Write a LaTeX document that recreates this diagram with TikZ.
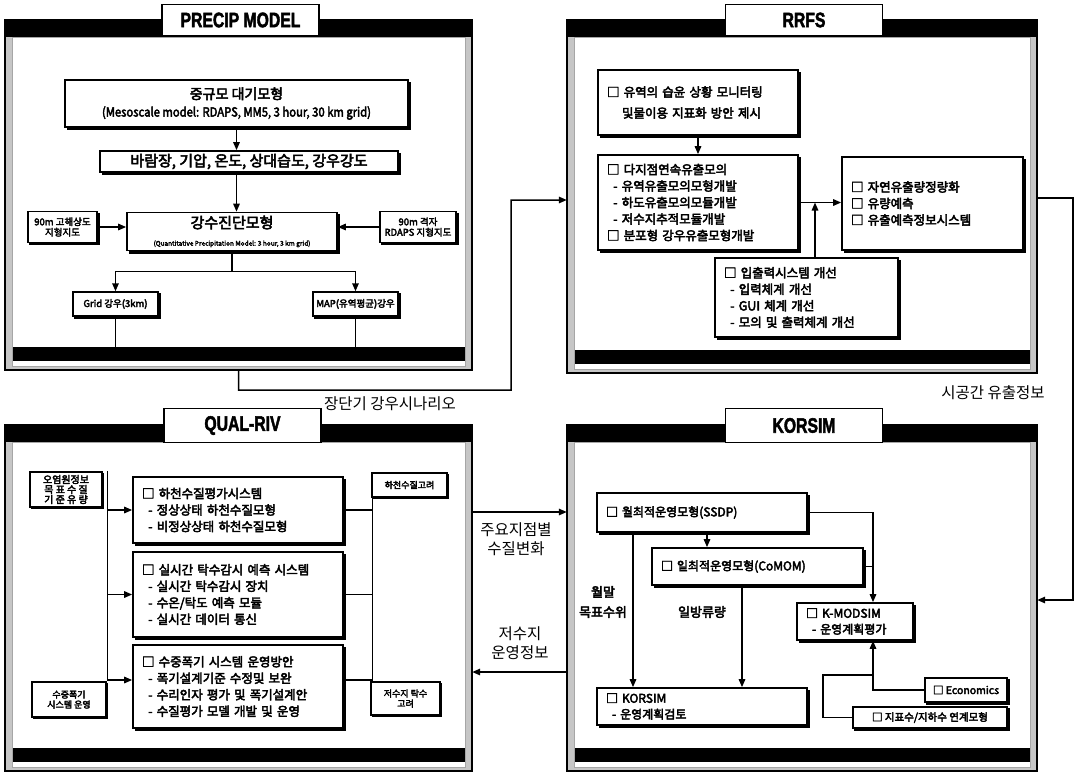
\documentclass[tikz,border=0pt]{standalone}
\usepackage{fontspec}
\setmainfont{Noto Sans CJK KR}
\newfontfamily\krb{Noto Sans CJK KR}[FakeBold=3.5]
\newfontfamily\ttlfont{Liberation Sans Bold}[FakeBold=2.5]
\usetikzlibrary{arrows.meta,calc}
\newcommand\fsz[2]{\fontsize{#1}{#2}\selectfont}
\newcommand\li[1]{\mbox{#1}}
\newcommand\dl[1]{\mbox{\hspace*{0.5em}- #1}}
\newcommand\drawpanel[5]{%
  \fill[gray!45] (#2,#3) rectangle (#4,#5);
  \fill[white] (#2+7,#3+17) rectangle (#4-7,#5-4);
  \fill[black] (#2,#3) rectangle (#4,#3+17);
  \draw[gray!70, line width=0.4pt] (#2+7,#3+17) rectangle (#4-7,#5-4);
  \fill[black] (#2+8,#5-23) rectangle (#4-7,#5-9);
  \draw[line width=1.4pt] (#2,#3) rectangle (#4,#5);
  \coordinate (#1bar) at (#2+8,#5-23);
  \node[inner sep=0pt, minimum width={#4-#2}, minimum height={#5-#3}] (#1) at ({(#2+#4)/2},{(#3+#5)/2}) {};
}
\tikzset{
  shd/.style={preaction={draw=black, fill=black, line width=1.4pt, transform canvas={xshift=#1, yshift=-#1}}},
  bx/.style={draw, line width=1.7pt, fill=white, inner xsep=9pt, inner ysep=0pt, shd=2.6pt,
    font=\krb\fsz{12.5}{16.5}, align=left},
  sbx/.style={draw, line width=1.5pt, fill=white, inner sep=1pt, shd=2pt,
    font=\krb\fsz{9.5}{10.5}, align=center},
  tbx/.style={draw, line width=1.2pt, fill=white, inner sep=1pt, shd=1.5pt,
    font=\krb\fsz{9}{10}, align=center},
  ttl/.style={draw, line width=1.5pt, fill=white, minimum width=157pt, minimum height=31pt,
    inner sep=0pt, font=\ttlfont\fsz{21}{21}},
  arr/.style={line width=1.5pt, -{Triangle[length=8pt,width=6.5pt]}},
  ln/.style={line width=1.5pt},
  lbl/.style={font=\fsz{15.5}{18.5}, align=center},
  blbl/.style={font=\krb\fsz{13}{20}, align=center},
}
\begin{document}
\begin{tikzpicture}[x=1pt,y=-1pt]
\useasboundingbox (0,0) rectangle (1076,772);
\fill[white] (0,0) rectangle (1076,772);

% ---------------- panels
\drawpanel{pan1}{5}{20}{472}{370}
\drawpanel{pan2}{567}{20}{1037}{373}
\drawpanel{pan3}{5}{425}{472}{771}
\drawpanel{pan4}{567}{425}{1037}{771}

\node[ttl] (t1) at (240.5,20) {\scalebox{0.75}[1]{PRECIP MODEL}};
\node[ttl] (t2) at (804,20) {\scalebox{0.75}[1]{RRFS}};
\node[ttl, minimum height=34pt] (t3) at (242.5,425.5) {\scalebox{0.75}[1]{QUAL-RIV}};
\node[ttl, minimum height=34pt] (t4) at (804,425.5) {\scalebox{0.75}[1]{KORSIM}};

% ---------------- PRECIP MODEL
\node[bx, align=center, minimum width=343pt, minimum height=47pt] (p1meso) at (236.5,103.5)
  {{\fsz{14}{17}중규모 대기모형}\\[1pt]{\fsz{12.5}{13}\scalebox{0.9}[1]{(Mesoscale model: RDAPS, MM5, 3 hour, 30 km grid)}}};
\node[bx, align=center, minimum width=298pt, minimum height=21pt, font=\krb\fsz{15}{16}] (p1vars) at (249,161.5)
  {바람장, 기압, 온도, 상대습도, 강우강도};
\node[bx, align=center, minimum width=210pt, minimum height=38pt] (p1qpm) at (232,231.5)
  {{\fsz{15}{17}강수진단모형}\\[1pt]{\fsz{6.5}{7}(Quantitative Precipitation Model: 3 hour, 3 km grid)}};
\node[sbx, minimum width=69pt, minimum height=31pt] (p1topo1) at (62.5,227)
  {90m 고해상도\\지형지도};
\node[sbx, minimum width=76pt, minimum height=31pt] (p1topo2) at (418,227)
  {90m 격자\\RDAPS 지형지도};
\node[sbx, minimum width=85pt, minimum height=24pt] (p1grid) at (115.5,304)
  {Grid 강우(3km)};
\node[sbx, minimum width=85pt, minimum height=24pt] (p1map) at (355.5,304)
  {MAP(유역평균)강우};

\draw[arr] (p1meso.south) -- (p1meso.south |- p1vars.north);
\draw[arr] (p1meso.south |- p1vars.south) -- (p1meso.south |- p1qpm.north);
\draw[arr] (p1topo1.east) -- (p1topo1.east -| p1qpm.west);
\draw[arr] (p1topo2.west) -- (p1topo2.west -| p1qpm.east);
\coordinate (p1j) at ($(p1qpm.south)+(0,20)$);
\draw[ln] (p1qpm.south) -- (p1j);
\draw[ln] (p1j -| p1grid.north) -- (p1j -| p1map.north);
\draw[arr] (p1j -| p1grid.north) -- (p1grid.north);
\draw[arr] (p1j -| p1map.north) -- (p1map.north);
\draw[ln] (p1grid.south) -- (p1grid.south |- pan1bar);
\draw[ln] (p1map.south) -- (p1map.south |- pan1bar);

% PRECIP -> RRFS
\coordinate (c12a) at ($(pan1.south)+(0,20)$);
\coordinate (c12b) at (511,390);
\coordinate (c12c) at (511,200);
\draw[arr] (pan1.south) -- (c12a) -- (c12b) -- (c12c) -- (c12c -| pan2.west);
\node[lbl] (l12) at (390,404) {장단기 강우시나리오};

% ---------------- RRFS
\node[bx, text width=182pt, minimum height=65pt, inner xsep=9pt, font=\krb\fsz{12.5}{21}] (r1) at (698,102.5)
  {\li{□ 유역의 습윤 상황 모니터링}\\\li{\hspace*{1.2em}및물이용 지표화 방안 제시}};
\node[bx, text width=182pt, minimum height=95pt] (r2) at (698,202.5)
  {\li{□ 다지점연속유출모의}\\\dl{유역유출모의모형개발}\\\dl{하도유출모의모듈개발}\\\dl{저수지추적모듈개발}\\\li{□ 분포형 강우유출모형개발}};
\node[bx, text width=163pt, minimum height=93pt] (r3) at (932.5,203.5)
  {\li{□ 자연유출량정량화}\\\li{□ 유량예측}\\\li{□ 유출예측정보시스템}};
\node[bx, text width=165pt, minimum height=79pt] (r4) at (806.5,297.5)
  {\li{□ 입출력시스템 개선}\\\dl{입력체계 개선}\\\dl{GUI 체계 개선}\\\dl{모의 및 출력체계 개선}};

\draw[arr] (r1.south) -- (r2.north);
\draw[arr] (r2.east) -- (r2.east -| r3.west);
\draw[arr] ([xshift=8.5pt]r4.north) -- ([xshift=8.5pt]r4.north |- r2.east);

% RRFS -> KORSIM
\coordinate (c24a) at (1073,198);
\coordinate (c24b) at (1073,600);
\draw[arr] (pan2.east |- c24a) -- (c24a) -- (c24b) -- (c24b -| pan4.east);
\node[lbl] (l24) at (993,393) {시공간 유출정보};

% ---------------- QUAL-RIV
\node[tbx, minimum width=72pt, minimum height=35pt, font=\krb\fsz{10}{10}] (qsrc) at (66,489.5)
  {오염원정보\\목 표 수 질\\기 준 유 량};
\node[tbx, minimum width=74pt, minimum height=35pt] (qaer) at (69,699.5)
  {수중폭기\\시스템 운영};
\node[tbx, minimum width=75pt, minimum height=24pt] (qr1) at (409.5,485)
  {하천수질고려};
\node[tbx, minimum width=69pt, minimum height=33pt] (qr2) at (405.5,698.5)
  {저수지 탁수\\고려};
\node[bx, text width=192pt, minimum height=66pt] (q1) at (238,510)
  {\li{□ 하천수질평가시스템}\\\dl{정상상태 하천수질모형}\\\dl{비정상상태 하천수질모형}};
\node[bx, text width=192pt, minimum height=85pt] (q2) at (238,594.5)
  {\li{□ 실시간 탁수감시 예측 시스템}\\\dl{실시간 탁수감시 장치}\\\dl{수온/탁도 예측 모듈}\\\dl{실시간 데이터 통신}};
\node[bx, text width=192pt, minimum height=83pt] (q3) at (238,686.5)
  {\li{□ 수중폭기 시스템 운영방안}\\\dl{폭기설계기준 수정및 보완}\\\dl{수리인자 평가 및 폭기설계안}\\\dl{수질평가 모델 개발 및 운영}};

\coordinate (qL) at ([xshift=5pt]qsrc.north east);
\draw[ln] (qL) -- (qL |- qaer.north);
\draw[arr] (qL |- q1.west) -- (q1.west);
\draw[arr] (qL |- q2.west) -- (q2.west);
\draw[arr] (qL |- 0,680) -- (q3.west |- 0,680);
\coordinate (qR) at ([xshift=1pt]qr1.south west);
\draw[ln] (qR) -- (qR |- qr2.north);
\draw[ln] (q1.east) -- (q1.east -| qR);
\draw[ln] (q2.east) -- (q2.east -| qR);
\draw[ln] (q3.east |- 0,680) -- (qR |- 0,680);

% QUAL-RIV <-> KORSIM
\draw[arr] (pan3.east |- 0,512) -- (pan4.west |- 0,512);
\draw[arr] (pan4.west |- 0,672) -- (pan3.east |- 0,672);
\node[lbl] (l34) at (516,539) {주요지점별\\수질변화};
\node[lbl] (l43) at (520,643) {저수지\\운영정보};

% ---------------- KORSIM
\node[bx, text width=192pt, minimum height=39pt, font=\krb\fsz{12}{17}] (k1) at (702,512.5)
  {\li{□ 월최적운영모형(SSDP)}};
\node[bx, text width=193pt, minimum height=37pt, font=\krb\fsz{12}{17}] (k2) at (757.5,566.5)
  {\li{□ 일최적운영모형(CoMOM)}};
\node[bx, text width=98pt, minimum height=37pt, font=\krb\fsz{12}{16}] (k3) at (855,621.5)
  {\li{□ K-MODSIM}\\\dl{운영계획평가}};
\node[bx, text width=192pt, minimum height=37pt, font=\krb\fsz{12}{16}] (k4) at (702,706.5)
  {\li{□ KORSIM}\\\dl{운영계획검토}};
\node[sbx, minimum width=82pt, minimum height=24pt, font=\krb\fsz{10.5}{12}] (k5) at (966,690)
  {□ Economics};
\node[sbx, minimum width=154pt, minimum height=21pt, font=\krb\fsz{10.5}{12}] (k6) at (930,717.5)
  {□ 지표수/지하수 연계모형};

\coordinate (kV) at ([xshift=18pt]k3.north);
\draw[arr] ([xshift=5pt]k1.south) -- ([xshift=5pt]k1.south |- k2.north);
\draw[arr] (k1.east) -| (kV);
\draw[ln] (k2.east) -- (k2.east -| kV);
\draw[arr] ([xshift=-69pt]k1.south) -- ([xshift=-69pt]k1.south |- k4.north);
\draw[arr] ([xshift=-15.5pt]k2.south) -- ([xshift=-15.5pt]k2.south |- k4.north);
\draw[arr] (k5.west) -| ([xshift=18pt]k3.south);
\coordinate (kW) at (823,675);
\draw[ln] (k6.west) -| (kW) -- (kW -| kV);

\node[blbl] (lw1) at (603,602) {월말\\목표수위};
\node[blbl] (lw2) at (702,612) {일방류량};
\end{tikzpicture}
\end{document}
